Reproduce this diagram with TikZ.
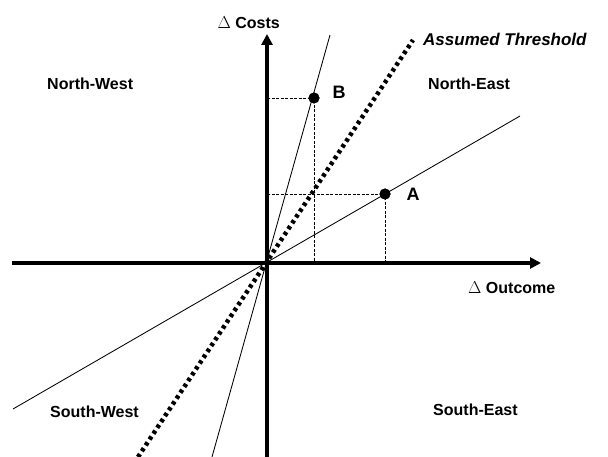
\documentclass[tikz,border=0pt]{standalone}
\usepackage{fontspec}
\setmainfont{Liberation Sans}
\usetikzlibrary{arrows.meta}
\begin{document}
\begin{tikzpicture}[x=1pt,y=-1pt,
  axis/.style={line width=3.5pt,-{Triangle[length=11pt,width=11pt]}},
  ray/.style={line width=0.85pt},
  thresh/.style={line width=4.5pt,dash pattern=on 3.5pt off 3.5pt},
  guide/.style={line width=0.9pt,dash pattern=on 3pt off 1.5pt},
  dot/.style={circle,fill=black,inner sep=0pt,minimum size=11pt},
  lbl/.style={inner sep=0pt,font=\bfseries\fontsize{16}{18}\selectfont},
  ptlbl/.style={inner sep=0pt,font=\bfseries\fontsize{18}{20}\selectfont},
]
\useasboundingbox (0,0) rectangle (608,457);
% coordinates
\coordinate (O) at (267,263);
\coordinate (xl) at (12,263);
\coordinate (xr) at (541,263);
\coordinate (yb) at (267,457);
\coordinate (yt) at (267,34);
\coordinate (sL) at (13,409);
\coordinate (sR) at (520,116);
\coordinate (tL) at (212,457);
\coordinate (tR) at (330,35);
\coordinate (hL) at (138,457);
\coordinate (hR) at (413,40);
\coordinate (Ay) at (267,194);
\coordinate (Ax) at (385,263);
\coordinate (By) at (267,98);
\coordinate (Bx) at (314,263);
% points
\node[dot] (A) at (385,194) {};
\node[dot] (B) at (314,98) {};
% guide lines
\draw[guide] (Ay) -- (A.center) -- (Ax);
\draw[guide] (By) -- (B.center) -- (Bx);
% rays
\draw[ray] (sL) -- (sR);
\draw[ray] (tL) -- (tR);
\draw[thresh] (hL) -- (hR);
% axes
\draw[axis] (xl) -- (xr);
\draw[axis] (yb) -- (yt);
% redraw dots on top
\node[dot] at (A.center) {};
\node[dot] at (B.center) {};
% labels
\node[lbl,anchor=east] (costs) at (280,23) {$\Delta$ Costs};
\node[lbl,anchor=west] (outcome) at (468,288) {$\Delta$ Outcome};
\node[inner sep=0pt,anchor=west,font=\bfseries\itshape\fontsize{17}{19}\selectfont] (thr) at (423,39) {Assumed Threshold};
\node[lbl,anchor=west] (nw) at (47,84) {North-West};
\node[lbl,anchor=west] (ne) at (428,84) {North-East};
\node[lbl,anchor=west] (sw) at (50,412) {South-West};
\node[lbl,anchor=west] (se) at (433,410) {South-East};
\node[ptlbl] (Blbl) at (339,92) {B};
\node[ptlbl] (Albl) at (413,194) {A};
\end{tikzpicture}
\end{document}
